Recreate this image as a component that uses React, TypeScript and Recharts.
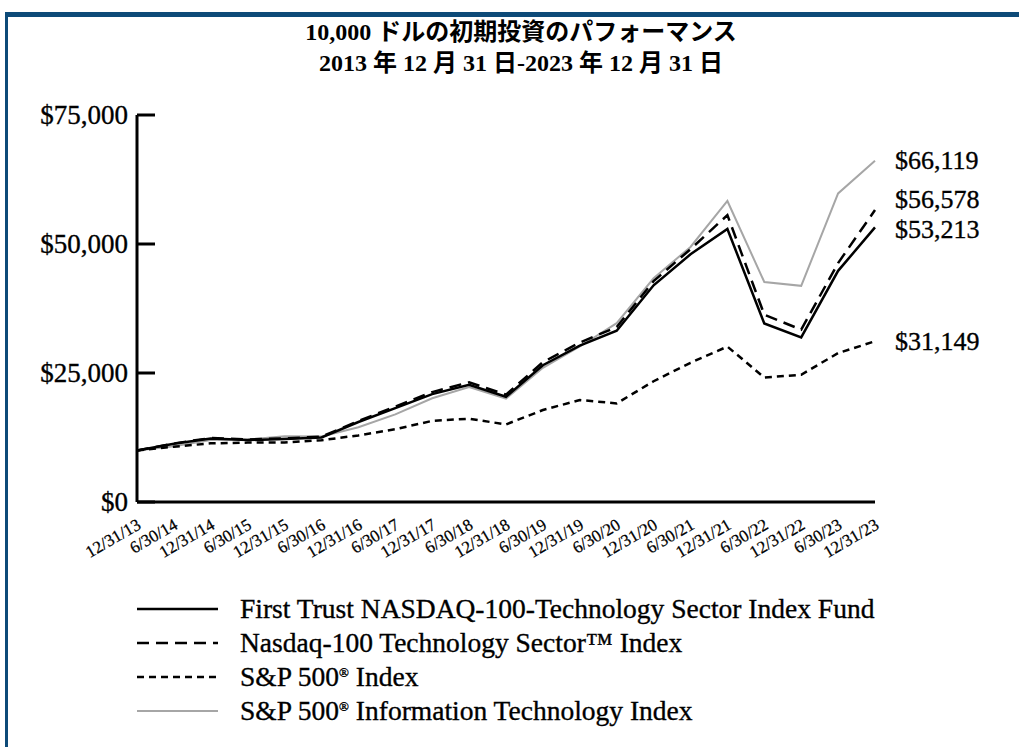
import React from 'react';
import { LineChart, Line, XAxis, YAxis, LabelList, Legend } from 'recharts';

const dates = ['12/31/13','6/30/14','12/31/14','6/30/15','12/31/15','6/30/16','12/31/16','6/30/17','12/31/17','6/30/18','12/31/18','6/30/19','12/31/19','6/30/20','12/31/20','6/30/21','12/31/21','6/30/22','12/31/22','6/30/23','12/31/23'];
const fundValues = [10000, 11300, 12300, 12000, 12200, 12500, 15500, 18200, 20900, 22700, 20400, 26500, 30300, 33200, 42000, 48000, 52900, 34600, 31900, 44800, 53213];
const ndxtValues = [10000, 11350, 12400, 12100, 12350, 12650, 15700, 18500, 21300, 23200, 20800, 27100, 30900, 33900, 42800, 49000, 55600, 36300, 33400, 46300, 56578];
const spValues = [10000, 10714, 11369, 11509, 11526, 11969, 12905, 14111, 15722, 16143, 15033, 17823, 19766, 19108, 23403, 26980, 30121, 24109, 24666, 28857, 31149];
const spItValues = [10000, 10805, 12012, 12100, 12723, 12680, 14485, 16970, 20110, 22300, 20052, 26000, 30136, 34650, 43363, 49430, 58336, 42640, 41891, 59800, 66119];
const seriesNames = [
  'First Trust NASDAQ-100-Technology Sector Index Fund',
  'Nasdaq-100 Technology Sector\u2122 Index',
  'S&P 500\u00ae Index',
  'S&P 500\u00ae Information Technology Index',
];
const yTicks = [0, 25000, 50000, 75000];
const titleLines = ['10,000 ドルの初期投資のパフォーマンス', '2013 年 12 月 31 日-2023 年 12 月 31 日'];

const data = dates.map((d, i) => ({
  date: d,
  fund: fundValues[i],
  ndxt: ndxtValues[i],
  sp: spValues[i],
  spit: spItValues[i],
}));

const SERIF = '"Liberation Serif", "Times New Roman", "Noto Sans CJK JP", serif';
const fmt = (v: number) => '$' + v.toLocaleString('en-US');
const last = dates.length - 1;

const styles = [
  { key: 'fund', stroke: '#000', width: 2.5, dash: undefined as string | undefined, dy: 2 },
  { key: 'ndxt', stroke: '#000', width: 2.5, dash: '12 7', dy: -11 },
  { key: 'sp', stroke: '#000', width: 2.5, dash: '7 5', dy: 0 },
  { key: 'spit', stroke: '#a6a6a6', width: 2, dash: undefined as string | undefined, dy: 0 },
];

const heavy = { stroke: '#000', strokeWidth: 0.35 };

const YTick = (props: any) => {
  const { x, y, payload } = props;
  return (
    <g>
      <line x1={x} x2={x + 18} y1={y} y2={y} stroke="#000" strokeWidth={3} />
      <text x={x - 9} y={y} textAnchor="end" dominantBaseline="central" fontFamily={SERIF} fontSize={27} fill="#000" {...heavy}>
        {fmt(payload.value)}
      </text>
    </g>
  );
};

const XTick = (props: any) => {
  const { x, y, payload } = props;
  const tx = x + 5;
  const ty = y + 26;
  return (
    <text x={tx} y={ty} textAnchor="end" fontFamily={SERIF} fontSize={17} fill="#000" stroke="#000" strokeWidth={0.25} transform={`rotate(-30, ${tx}, ${ty})`}>
      {payload.value}
    </text>
  );
};

const makeEndLabel = (dy: number) => (props: any) => {
  const { x, y, value, index } = props;
  if (index !== last) return null;
  return (
    <text x={x + 20} y={y + dy} dominantBaseline="central" fontFamily={SERIF} fontSize={26} fill="#000" {...heavy}>
      {fmt(value)}
    </text>
  );
};

const renderName = (name: string) => {
  const parts = name.split('\u00ae');
  const out: any[] = [];
  parts.forEach((p, i) => {
    if (i > 0) {
      out.push(<tspan key={'r' + i} fontSize={13} dy={-9}>{'\u00ae'}</tspan>);
      out.push(<tspan key={'p' + i} dy={9}>{p}</tspan>);
    } else {
      out.push(<tspan key={'p' + i}>{p}</tspan>);
    }
  });
  return out;
};

const legendOrder = [0, 1, 2, 3];
const LegendContent = () => (
  <svg width={1019} height={140}>
    {legendOrder.map((si, row) => {
      const s = styles[si];
      const cy = 19 + row * 34;
      return (
        <g key={s.key}>
          <line x1={137} x2={218} y1={cy} y2={cy} stroke={s.stroke} strokeWidth={s.width} strokeDasharray={s.dash} />
          <text x={240} y={cy + 9} fontFamily={SERIF} fontSize={27.5} fill="#000" {...heavy}>
            {renderName(seriesNames[si])}
          </text>
        </g>
      );
    })}
  </svg>
);

export default function App() {
  const drawOrder = [3, 2, 1, 0];
  return (
    <div style={{ position: 'absolute', left: 0, top: 0, width: 1019, height: 747, background: '#fff', overflow: 'hidden' }}>
      <div style={{ position: 'absolute', left: 5, top: 12, width: 1014, height: 5, background: '#0d4a78' }} />
      <div style={{ position: 'absolute', left: 5, top: 12, width: 3, height: 735, background: '#0d4a78' }} />
      {titleLines.map((t, i) => (
        <div key={i} style={{ position: 'absolute', left: 0, width: 1042, top: 18 + i * 31, textAlign: 'center', fontFamily: SERIF, fontWeight: 'bold', fontSize: 24, lineHeight: '28px', color: '#000' }}>
          {t}
        </div>
      ))}
      <div style={{ position: 'absolute', left: 0, top: 0 }}>
        <LineChart width={1019} height={747} data={data} margin={{ top: 115, right: 144, bottom: 215, left: 77 }}>
          <XAxis dataKey="date" height={30} interval={0} tickSize={0} tickMargin={0} tickLine={false} axisLine={{ stroke: '#000', strokeWidth: 3 }} tick={<XTick />} />
          <YAxis width={60} domain={[0, 75000]} ticks={yTicks} interval={0} tickSize={0} tickMargin={0} tickLine={false} axisLine={{ stroke: '#000', strokeWidth: 3 }} tick={<YTick />} />
          {drawOrder.map((si) => {
            const s = styles[si];
            return (
              <Line key={s.key} type="linear" dataKey={s.key} name={seriesNames[si]} stroke={s.stroke} strokeWidth={s.width} strokeDasharray={s.dash} dot={false} activeDot={false} isAnimationActive={false}>
                <LabelList dataKey={s.key} content={makeEndLabel(s.dy)} />
              </Line>
            );
          })}
          <Legend layout="vertical" align="center" verticalAlign="middle" wrapperStyle={{ left: 0, top: 590, width: 1019, height: 140 }} content={<LegendContent />} />
        </LineChart>
      </div>
    </div>
  );
}
